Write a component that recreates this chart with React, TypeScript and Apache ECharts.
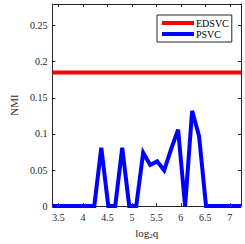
import React, { useEffect, useRef } from "react";
import * as echarts from "echarts";

const xValues = [
  3.375, 3.518, 3.660, 3.803, 3.946, 4.088, 4.231, 4.374, 4.517, 4.659,
  4.802, 4.945, 5.088, 5.230, 5.373, 5.516, 5.659, 5.801, 5.944, 6.087,
  6.230, 6.372, 6.515, 6.658, 6.801, 6.943, 7.086, 7.229,
];
const psvcValues = [
  0, 0, 0, 0, 0, 0, 0, 0.081, 0, 0,
  0.081, 0, 0, 0.074, 0.057, 0.062, 0.0495, 0.079, 0.106, 0,
  0.132, 0.097, 0, 0, 0, 0, 0, 0,
];
const edsvcX = [3.375, 7.229];
const edsvcValues = [0.185, 0.185];
const seriesNames = ["EDSVC", "PSVC"];
const yTicks = [0, 0.05, 0.1, 0.15, 0.2, 0.25];

const FONT = "Liberation Serif";
const TXT = "#262626";

export default function App() {
  const ref = useRef<HTMLDivElement>(null);
  useEffect(() => {
    const chart = echarts.init(ref.current!, undefined, { renderer: "svg" });
    const isTick = (v: number, step: number) =>
      Math.abs(v / step - Math.round(v / step)) < 1e-6;
    const fmtX = (v: number) => (isTick(v, 0.5) ? String(+v.toFixed(2)) : "");
    const fmtY = (v: number) =>
      yTicks.some((t) => Math.abs(t - v) < 1e-9) ? String(+v.toFixed(2)) : "";
    const axisCommon = {
      axisLine: { show: true, onZero: false, lineStyle: { color: TXT, width: 1 } },
      axisTick: { show: true, inside: true, length: 3, lineStyle: { color: TXT } },
      splitLine: { show: false },
    };
    chart.setOption({
      animation: false,
      textStyle: { fontFamily: FONT },
      grid: { left: 35, right: 4, top: 4, bottom: 34, containLabel: false },
      legend: {
        data: seriesNames.map((n) => ({ name: n, icon: "rect" })),
        orient: "vertical",
        left: 157,
        top: 15,
        itemWidth: 32,
        itemHeight: 4,
        itemGap: 1,
        padding: [3, 3, 3, 5],
        backgroundColor: "#fff",
        borderColor: TXT,
        borderWidth: 1,
        borderRadius: 0,
        textStyle: { fontFamily: FONT, fontSize: 10, color: "#000", padding: [0, 0, 0, -3] },
      },
      xAxis: [
        {
          type: "value",
          min: 3.375,
          max: 7.229,
          minInterval: 0.5,
          maxInterval: 0.5,
          splitNumber: 8,
          position: "bottom",
          ...axisCommon,
          axisLabel: {
            formatter: fmtX,
            fontFamily: FONT,
            fontSize: 10,
            color: TXT,
            margin: 6,
            showMinLabel: false,
            showMaxLabel: false,
          },
          name: "{a|log}{b|2}{a|q}",
          nameLocation: "middle",
          nameGap: 19,
          nameTextStyle: {
            fontFamily: FONT,
            rich: {
              a: { fontFamily: FONT, fontSize: 11, color: TXT },
              b: { fontFamily: FONT, fontSize: 7, color: TXT, verticalAlign: "bottom", padding: [6, 0, 0, 0] },
            },
          },
        },
        {
          type: "value",
          min: 3.375,
          max: 7.229,
          minInterval: 0.5,
          maxInterval: 0.5,
          splitNumber: 8,
          position: "top",
          ...axisCommon,
          axisLabel: { show: false },
        },
      ],
      yAxis: [
        {
          type: "value",
          min: 0,
          max: 0.28,
          interval: 0.05,
          position: "left",
          ...axisCommon,
          axisLabel: {
            formatter: fmtY,
            fontFamily: FONT,
            fontSize: 10,
            color: TXT,
            margin: 5,
          },
          name: "NMI",
          nameLocation: "middle",
          nameGap: 26,
          nameTextStyle: { fontFamily: FONT, fontSize: 11, color: TXT },
        },
        {
          type: "value",
          min: 0,
          max: 0.28,
          interval: 0.05,
          position: "right",
          ...axisCommon,
          axisLabel: { show: false },
        },
      ],
      series: [
        {
          name: "EDSVC",
          type: "line",
          data: edsvcX.map((x, i) => [x, edsvcValues[i]]),
          showSymbol: false,
          symbol: "none",
          lineStyle: { color: "#ff0000", width: 4 },
          itemStyle: { color: "#ff0000" },
          z: 3,
        },
        {
          name: "PSVC",
          type: "line",
          data: xValues.map((x, i) => [x, psvcValues[i]]),
          showSymbol: false,
          symbol: "none",
          lineStyle: { color: "#0000ff", width: 4, join: "miter" },
          itemStyle: { color: "#0000ff" },
          z: 2,
        },
      ],
    });
    return () => chart.dispose();
  }, []);
  return <div ref={ref} style={{ width: 245, height: 244, position: "absolute", left: 0, top: 0 }} />;
}
